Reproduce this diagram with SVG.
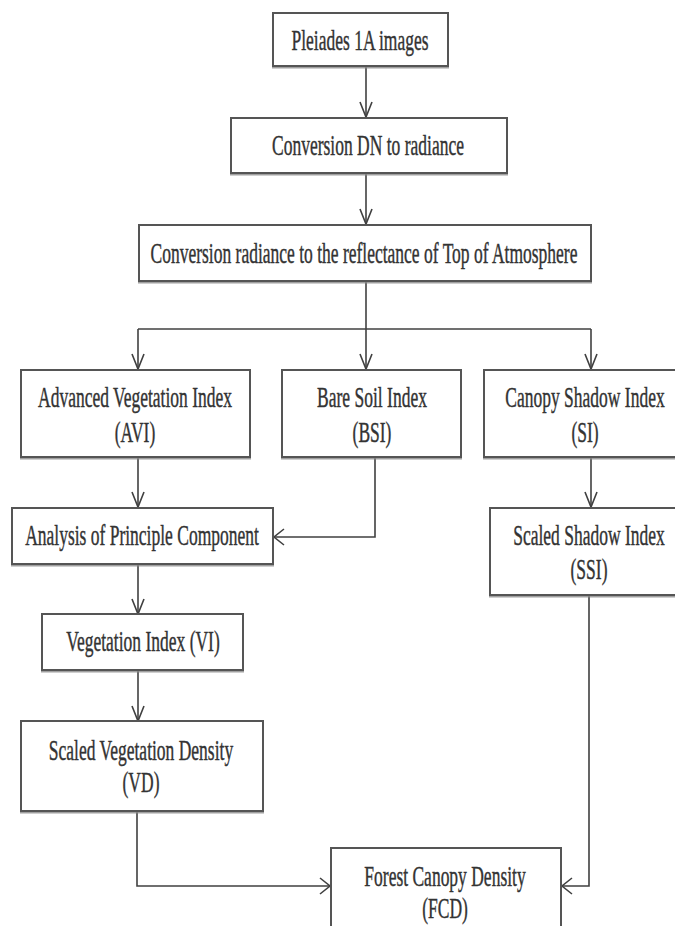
<svg xmlns="http://www.w3.org/2000/svg" width="675" height="926" viewBox="0 0 675 926">
  <defs>
    <style>
      .box { fill: #ffffff; stroke: #555555; stroke-width: 2; filter: url(#shadow); }
      .lbl { font-family: "Liberation Serif", "Times New Roman", serif; font-size: 17.5px; fill: #333333; stroke: #333333; stroke-width: 0.25; text-anchor: middle; }
      .con { fill: none; stroke: #404040; stroke-width: 1.6; }
    </style>
    <filter id="shadow" x="-5%" y="-5%" width="110%" height="115%">
      <feDropShadow dx="0" dy="1.5" stdDeviation="0.6" flood-color="#888888" flood-opacity="0.8"/>
    </filter>
    <marker id="arrV" markerUnits="userSpaceOnUse" markerWidth="18" markerHeight="16" refX="15" refY="7" orient="auto" overflow="visible">
      <path d="M0,1 L15,7 L0,13" fill="none" stroke="#404040" stroke-width="1.6"/>
    </marker>
    <marker id="arrH" markerUnits="userSpaceOnUse" markerWidth="14" markerHeight="20" refX="10" refY="9" orient="auto" overflow="visible">
      <path d="M0,1 L10,9 L0,17" fill="none" stroke="#404040" stroke-width="1.6"/>
    </marker>
  </defs>
  <rect width="675" height="926" fill="#ffffff"/>

  <g id="connectors">
    <path class="con" d="M366,66 L366,117" marker-end="url(#arrV)"/>
    <path class="con" d="M366,173 L366,224" marker-end="url(#arrV)"/>
    <path class="con" d="M366,281 L366,369" marker-end="url(#arrV)"/>
    <path class="con" d="M138,329 L591,329"/>
    <path class="con" d="M138,329 L138,369" marker-end="url(#arrV)"/>
    <path class="con" d="M591,329 L591,369" marker-end="url(#arrV)"/>
    <path class="con" d="M138,457 L138,507" marker-end="url(#arrV)"/>
    <path class="con" d="M375,457 L375,537 L274,537" marker-end="url(#arrH)"/>
    <path class="con" d="M591,457 L591,507" marker-end="url(#arrV)"/>
    <path class="con" d="M138,564 L138,614" marker-end="url(#arrV)"/>
    <path class="con" d="M138,670 L138,721" marker-end="url(#arrV)"/>
    <path class="con" d="M137,811 L137,886 L330,886" marker-end="url(#arrH)"/>
    <path class="con" d="M589,595 L589,886 L562,886" marker-end="url(#arrH)"/>
  </g>

  <g id="pleiades">
    <rect class="box" x="273" y="13" width="175" height="53"/>
    <text class="lbl" transform="translate(360,40) scale(1,1.72)" y="5.8">Pleiades 1A images</text>
  </g>
  <g id="dn-radiance">
    <rect class="box" x="231" y="118" width="276" height="55"/>
    <text class="lbl" transform="translate(368,145) scale(1,1.72)" y="5.8">Conversion DN to radiance</text>
  </g>
  <g id="toa">
    <rect class="box" x="139" y="225" width="452" height="56"/>
    <text class="lbl" transform="translate(364,253) scale(1,1.72)" y="5.8">Conversion radiance to the reflectance of Top of Atmosphere</text>
  </g>
  <g id="avi">
    <rect class="box" x="21" y="370" width="229" height="87"/>
    <text class="lbl" transform="translate(135,397) scale(1,1.72)" y="5.8">Advanced Vegetation Index</text>
    <text class="lbl" transform="translate(135,432) scale(1,1.72)" y="5.8">(AVI)</text>
  </g>
  <g id="bsi">
    <rect class="box" x="282" y="370" width="179" height="87"/>
    <text class="lbl" transform="translate(372,397) scale(1,1.72)" y="5.8">Bare Soil Index</text>
    <text class="lbl" transform="translate(372,432) scale(1,1.72)" y="5.8">(BSI)</text>
  </g>
  <g id="si">
    <rect class="box" x="484" y="370" width="200" height="87"/>
    <text class="lbl" transform="translate(585,397) scale(1,1.72)" y="5.8">Canopy Shadow Index</text>
    <text class="lbl" transform="translate(585,432) scale(1,1.72)" y="5.8">(SI)</text>
  </g>
  <g id="apc">
    <rect class="box" x="12" y="508" width="261" height="56"/>
    <text class="lbl" transform="translate(142,535) scale(1,1.72)" y="5.8">Analysis of Principle Component</text>
  </g>
  <g id="ssi">
    <rect class="box" x="490" y="508" width="194" height="87"/>
    <text class="lbl" transform="translate(589,535) scale(1,1.72)" y="5.8">Scaled Shadow Index</text>
    <text class="lbl" transform="translate(589,569) scale(1,1.72)" y="5.8">(SSI)</text>
  </g>
  <g id="vi">
    <rect class="box" x="42" y="614" width="201" height="56"/>
    <text class="lbl" transform="translate(143,641) scale(1,1.72)" y="5.8">Vegetation Index (VI)</text>
  </g>
  <g id="vd">
    <rect class="box" x="21" y="721" width="242" height="90"/>
    <text class="lbl" transform="translate(141,750) scale(1,1.72)" y="5.8">Scaled Vegetation Density</text>
    <text class="lbl" transform="translate(141,782) scale(1,1.72)" y="5.8">(VD)</text>
  </g>
  <g id="fcd">
    <rect class="box" x="331" y="848" width="230" height="100"/>
    <text class="lbl" transform="translate(445,876) scale(1,1.72)" y="5.8">Forest Canopy Density</text>
    <text class="lbl" transform="translate(445,908) scale(1,1.72)" y="5.8">(FCD)</text>
  </g>
</svg>
